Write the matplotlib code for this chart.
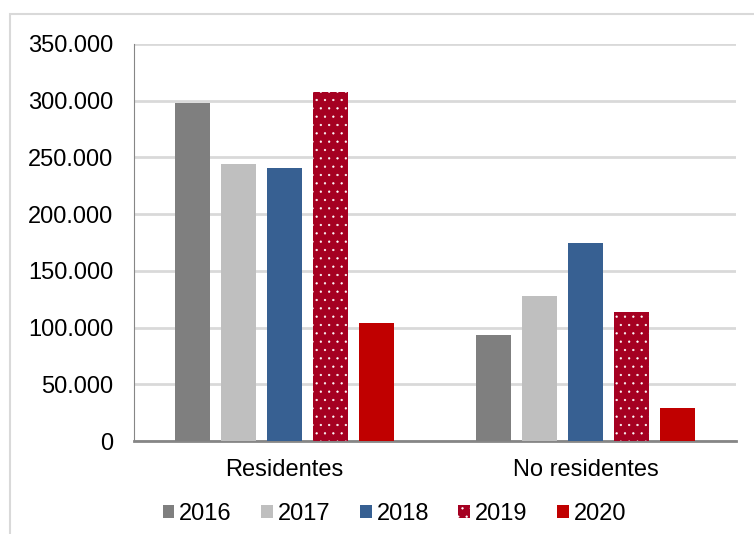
import matplotlib.pyplot as plt
import numpy as np
from matplotlib.patches import Rectangle
from matplotlib.ticker import FuncFormatter

plt.rcParams['font.family'] = ['Liberation Sans', 'DejaVu Sans']
plt.rcParams['hatch.linewidth'] = 0.4

categorias = ['Residentes', 'No residentes']
anios = ['2016', '2017', '2018', '2019', '2020']
valores = {
    '2016': [298000, 93500],
    '2017': [244000, 128000],
    '2018': [240500, 174500],
    '2019': [308000, 114000],
    '2020': [104000, 29000],
}
colores = ['#7f7f7f', '#bfbfbf', '#376092', '#a50021', '#c00000']
tramas = [None, None, None, '..', None]

fig = plt.figure(figsize=(7.54, 5.34), dpi=100)
ax = fig.add_axes([134/754, 1 - 441/534, (736 - 134)/754, (441 - 44)/534])

x = np.arange(len(categorias))
ancho = 0.118
paso = 0.153
for i, a in enumerate(anios):
    pos = x + (i - 2) * paso
    if tramas[i]:
        ax.bar(pos, valores[a], ancho, color=colores[i], edgecolor='white',
               linewidth=0, hatch=tramas[i], label=a, zorder=3)
    else:
        ax.bar(pos, valores[a], ancho, color=colores[i], label=a, zorder=3)

ax.set_xlim(-0.5, 1.5)
ax.set_ylim(0, 350000)
ax.set_yticks(np.arange(0, 350001, 50000))
ax.yaxis.set_major_formatter(FuncFormatter(lambda v, p: f'{int(v):,}'.replace(',', '.')))
ax.set_xticks(x)
ax.set_xticklabels(categorias)
ax.tick_params(axis='both', length=0, labelsize=17, colors='black')
ax.tick_params(axis='y', pad=15)
ax.tick_params(axis='x', pad=13)
ax.grid(axis='y', color='#d9d9d9', linewidth=2, zorder=0)
for s in ['top', 'right']:
    ax.spines[s].set_visible(False)
ax.spines['left'].set_color('#868686')
ax.spines['bottom'].set_color('#868686')
ax.spines['bottom'].set_linewidth(2)

fig.legend(loc='center', bbox_to_anchor=(0.523, 1 - 514/534), ncol=5, frameon=False,
           fontsize=17, handlelength=0.5, handleheight=0.5, handletextpad=0.2,
           columnspacing=1.25)

fig.patches.append(Rectangle((10/754, -0.1), 1.0, (534 - 14)/534 + 0.1, fill=False,
                             edgecolor='#d9d9d9', linewidth=1.5, transform=fig.transFigure))

fig.savefig('out.png', dpi=100)
